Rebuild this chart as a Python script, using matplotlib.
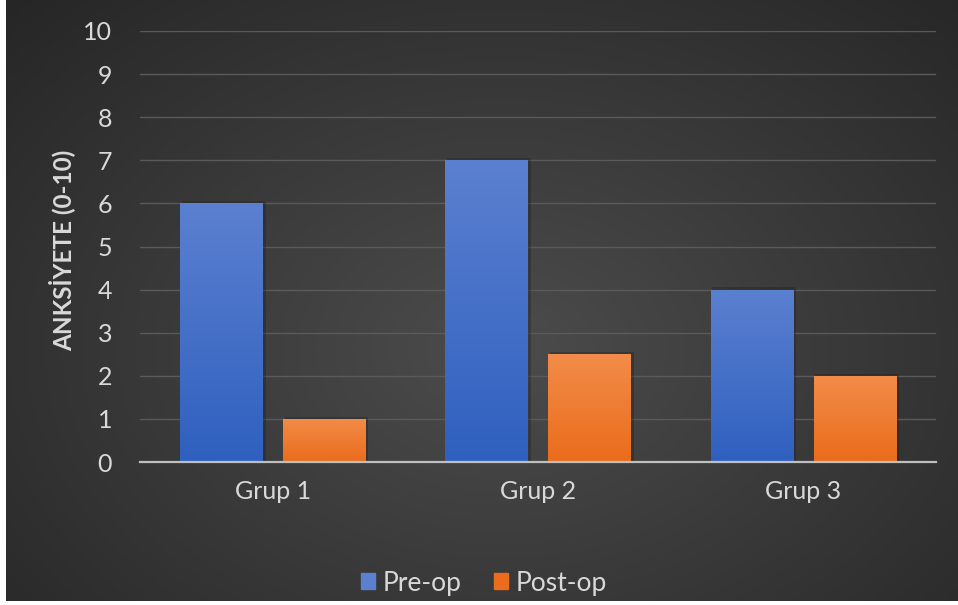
import matplotlib.pyplot as plt
import numpy as np
from matplotlib.colors import LinearSegmentedColormap
from matplotlib.patches import Rectangle

plt.rcParams["font.family"] = ["Lato", "DejaVu Sans"]

groups = ["Grup 1", "Grup 2", "Grup 3"]
pre_op = [6, 7, 4]
post_op = [1, 2.5, 2]
series_names = ["Pre-op", "Post-op"]
y_ticks = list(range(0, 11))

text_color = "#d9d9d9"
blue_top, blue_bottom = "#5b80d0", "#2f60bf"
orange_top, orange_bottom = "#f28c48", "#ea6c1c"

fig = plt.figure(figsize=(9.58, 6.05), dpi=100, facecolor="white")

# dark radial background
bg = fig.add_axes([6 / 958, 4 / 605, 952 / 958, 601 / 605])
bg.set_axis_off()
yy, xx = np.mgrid[0:1:300j, 0:1:480j]
r = np.sqrt(((xx - 0.52) / 0.75) ** 2 + ((yy - 0.42) / 0.85) ** 2)
r = np.clip(r, 0, 1)
bg_cmap = LinearSegmentedColormap.from_list("bg", ["#4c4c4c", "#262626"])
bg.imshow(r, cmap=bg_cmap, aspect="auto", extent=[0, 1, 0, 1], origin="lower")

ax = fig.add_axes([140 / 958, 143 / 605, 796 / 958, 431 / 605])
ax.patch.set_alpha(0)

x = np.arange(len(groups))
width = 0.31
offset = 0.194
bars_pre = ax.bar(x - offset, pre_op, width, color=blue_bottom, label=series_names[0], zorder=3)
bars_post = ax.bar(x + offset, post_op, width, color=orange_bottom, label=series_names[1], zorder=3)


def gradient_fill(bars, top, bottom):
    cmap = LinearSegmentedColormap.from_list("g", [bottom, top])
    grad = np.linspace(0, 1, 256).reshape(-1, 1)
    for b in bars:
        x0, y0 = b.get_x(), b.get_y()
        w, h = b.get_width(), b.get_height()
        # soft shadow
        ax.add_patch(Rectangle((x0 + 0.006, y0), w + 0.006, h + 0.05, color="#1e1e1e",
                               alpha=0.35, zorder=2, linewidth=0))
        im = ax.imshow(grad, cmap=cmap, aspect="auto", origin="lower",
                       extent=[x0, x0 + w, y0, y0 + h], zorder=3.5)
        im.set_clip_path(b)


gradient_fill(bars_pre, blue_top, blue_bottom)
gradient_fill(bars_post, orange_top, orange_bottom)

ax.set_xlim(-0.5, len(groups) - 0.5)
ax.set_ylim(0, 10)
ax.set_yticks(y_ticks)
ax.set_xticks(x)
ax.set_xticklabels(groups)
ax.grid(axis="y", color="#5a5a5a", linewidth=1.0, zorder=1)
ax.set_axisbelow(True)
for side in ["top", "right", "left"]:
    ax.spines[side].set_visible(False)
ax.spines["bottom"].set_color("#bfbfbf")
ax.spines["bottom"].set_linewidth(1.6)
ax.spines["bottom"].set_zorder(4)
ax.tick_params(axis="y", length=0, pad=20, labelsize=18, labelcolor=text_color)
ax.tick_params(axis="x", length=0, pad=13, labelsize=18, labelcolor=text_color)

fig.text(62 / 958, 1 - 250 / 605, "ANKSİYETE (0-10)", rotation=90, ha="center", va="center",
         fontsize=17.5, fontweight="bold", color=text_color)

leg = fig.legend(handles=[bars_pre, bars_post], labels=series_names, loc="center",
                 bbox_to_anchor=(484 / 958, 1 - 583 / 605), ncol=2, frameon=False,
                 fontsize=19, handlelength=0.55, handleheight=0.55, handletextpad=0.3,
                 columnspacing=1.2, labelcolor=text_color)
leg.legend_handles[0].set_color(blue_top)
leg.legend_handles[1].set_color(orange_bottom)

fig.savefig("out.png", dpi=100, facecolor="white")
